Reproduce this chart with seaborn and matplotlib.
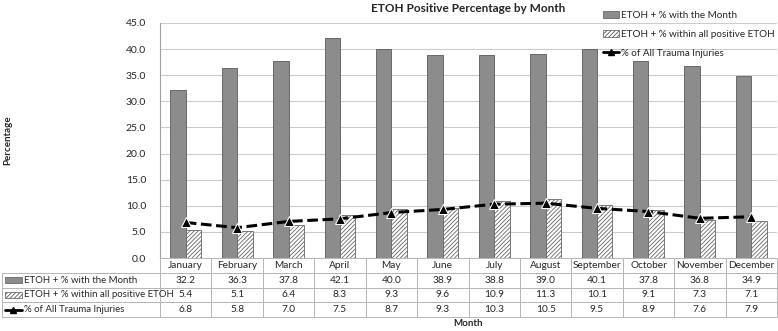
import pandas as pd
import numpy as np
import seaborn as sns
import matplotlib
matplotlib.use('Agg')
import matplotlib.pyplot as plt
from matplotlib.patches import Patch, Rectangle
from matplotlib.lines import Line2D

# Chart data
months = ['January', 'February', 'March', 'April', 'May', 'June', 'July',
          'August', 'September', 'October', 'November', 'December']
etoh_month = [32.2, 36.3, 37.8, 42.1, 40.0, 38.9, 38.8, 39.0, 40.1, 37.8, 36.8, 34.9]
etoh_all = [5.4, 5.1, 6.4, 8.3, 9.3, 9.6, 10.9, 11.3, 10.1, 9.1, 7.3, 7.1]
trauma_pct = [6.8, 5.8, 7.0, 7.5, 8.7, 9.3, 10.3, 10.5, 9.5, 8.9, 7.6, 7.9]
series_names = ['ETOH + % with the Month', 'ETOH + % within all positive ETOH',
                '% of All Trauma Injuries']

sns.set_style('white')
plt.rcParams['font.family'] = ['Lato', 'DejaVu Sans']
plt.rcParams['hatch.linewidth'] = 0.6
plt.rcParams['hatch.color'] = '#555555'

bars = pd.DataFrame({
    'Month': months * 2,
    'Series': [series_names[0]] * 12 + [series_names[1]] * 12,
    'Value': etoh_month + etoh_all,
})

fig = plt.figure(figsize=(7.78, 3.31), dpi=100)
ax = fig.add_axes([160 / 778, 1 - 258 / 331, 617 / 778, 235 / 331])

sns.barplot(data=bars, x='Month', y='Value', hue='Series', ax=ax,
            palette=['#8c8c8c', 'white'], width=0.6, gap=0,
            edgecolor='#5a5a5a', linewidth=0.6, legend=False, zorder=2)
for patch in ax.containers[1]:
    patch.set_hatch('////////')
    patch.set_edgecolor('#666666')

sns.lineplot(x=np.arange(len(months)), y=trauma_pct, ax=ax, color='black',
             lw=2.2, marker='^', markersize=7, dashes=False, zorder=3)
ax.lines[-1].set_linestyle((0, (3.5, 1.5)))

ax.set_ylim(0, 45)
ax.set_xlim(-0.5, 11.5)
ax.set_yticks(np.arange(0, 46, 5))
ax.set_yticklabels([f'{v:.1f}' for v in np.arange(0, 46, 5)], fontsize=7.5)
ax.tick_params(axis='y', length=0, pad=10)
ax.set_xticks([])
ax.set_xlabel('')
ax.set_ylabel('Percentage', fontsize=7, fontweight='bold')
ax.yaxis.set_label_coords(-0.24, 0.5)
ax.grid(axis='y', color='#cccccc', lw=0.8, zorder=0)
ax.set_axisbelow(True)
for s in ['top', 'right', 'bottom']:
    ax.spines[s].set_visible(False)
ax.spines['left'].set_color('#a0a0a0')
ax.spines['left'].set_linewidth(0.8)

ax.set_title('ETOH Positive Percentage by Month', fontsize=8.5,
             fontweight='bold', pad=8)

# data table under the plot
rows = [[''] + [f'{v:.1f}' for v in etoh_month],
        [''] + [f'{v:.1f}' for v in etoh_all],
        [''] + [f'{v:.1f}' for v in trauma_pct]]
lab_w = 158 / 617
col_w = 1 / 12
tbl = ax.table(cellText=rows, colLabels=[''] + months, cellLoc='center',
               colWidths=[lab_w] + [col_w] * 12,
               bbox=[-lab_w, -59 / 235, 1 + lab_w, 59 / 235])
tbl.auto_set_font_size(False)
tbl.set_fontsize(7.3)
tbl.set_zorder(4)
for (r, c), cell in tbl.get_celld().items():
    cell.set_edgecolor('#b5b5b5')
    cell.set_linewidth(0.7)
    if r == 0 and c == 0:
        cell.visible_edges = ''

# row labels with their swatches
row_h = 59 / 235 / 4
sw_x = -lab_w + 3 / 617
sw_w = 17 / 617
for i, name in enumerate(series_names):
    yc = -row_h * (1.5 + i)
    ax.text(-lab_w + 22 / 617, yc, name, transform=ax.transAxes, ha='left',
            va='center', fontsize=6.9, zorder=10, clip_on=False)
    if i < 2:
        ax.add_patch(Rectangle((sw_x, yc - 0.012), sw_w, 0.024, transform=ax.transAxes,
                               facecolor='#8c8c8c' if i == 0 else 'white',
                               edgecolor='#555555', lw=0.5, zorder=10,
                               hatch='////////' if i == 1 else None, clip_on=False))
    else:
        ax.add_line(Line2D([sw_x, sw_x + sw_w], [yc, yc], transform=ax.transAxes,
                           color='black', lw=2, clip_on=False, zorder=10))
        ax.add_line(Line2D([sw_x + sw_w / 2], [yc], transform=ax.transAxes,
                           color='black', marker='^', markersize=5, clip_on=False,
                           zorder=10))

fig.text(468 / 778, 1 - 324 / 331, 'Month', ha='center', va='center',
         fontsize=7, fontweight='bold')

handles = [Patch(facecolor='#8c8c8c', edgecolor='#555555', lw=0.5),
           Patch(facecolor='white', edgecolor='#555555', hatch='////////', lw=0.5),
           Line2D([], [], color='black', lw=2, marker='^', markersize=5)]
fig.legend(handles, series_names, loc='upper left',
           bbox_to_anchor=(599 / 778, 1 - 7 / 331), frameon=False,
           fontsize=7.1, handlelength=1.6, handletextpad=0.2, labelspacing=1.0,
           borderaxespad=0)

fig.savefig('out.png', dpi=100)
